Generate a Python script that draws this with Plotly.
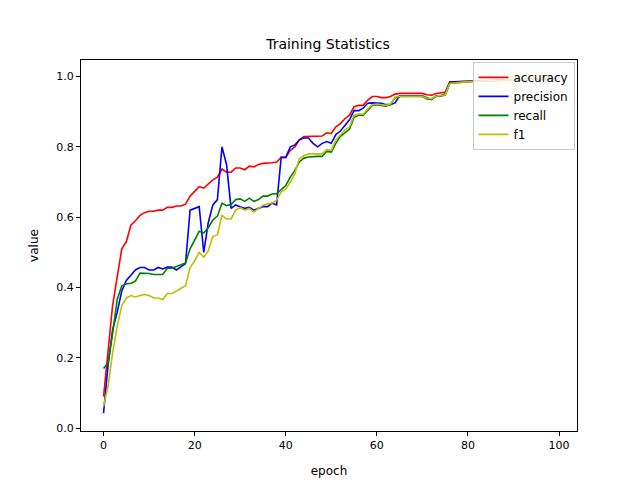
import plotly.graph_objects as go

epochs = list(range(100))

accuracy = [0.09, 0.22, 0.35, 0.43, 0.51, 0.53, 0.577, 0.59, 0.605, 0.613,
            0.617, 0.617, 0.62, 0.62, 0.628, 0.628, 0.632, 0.632, 0.637, 0.66,
            0.675, 0.687, 0.683, 0.695, 0.706, 0.714, 0.737, 0.728, 0.728, 0.74,
            0.74, 0.735, 0.745, 0.743, 0.75, 0.753, 0.753, 0.755, 0.757, 0.77,
            0.77, 0.79, 0.80, 0.82, 0.829, 0.829, 0.829, 0.829, 0.831, 0.84,
            0.838, 0.857, 0.866, 0.88, 0.89, 0.914, 0.918, 0.918, 0.933, 0.943,
            0.943, 0.94, 0.94, 0.943, 0.95, 0.952, 0.952, 0.952, 0.952, 0.952,
            0.952, 0.948, 0.947, 0.952, 0.953, 0.955, 0.984, 0.985, 0.985, 0.986,
            0.986, 0.987, 0.987, 0.988, 0.988, 0.989, 0.989, 0.99, 0.99, 0.99,
            0.991, 0.991, 0.992, 0.992, 0.993, 0.993, 0.994, 0.994, 0.995, 0.995]
precision = [0.043, 0.18, 0.28, 0.33, 0.39, 0.42, 0.435, 0.45, 0.457, 0.457,
             0.45, 0.45, 0.457, 0.453, 0.458, 0.458, 0.45, 0.46, 0.468, 0.62,
             0.625, 0.63, 0.50, 0.585, 0.635, 0.65, 0.80, 0.75, 0.625, 0.635,
             0.63, 0.625, 0.628, 0.62, 0.625, 0.63, 0.63, 0.64, 0.635, 0.77,
             0.77, 0.80, 0.805, 0.82, 0.825, 0.825, 0.81, 0.80, 0.81, 0.815,
             0.81, 0.835, 0.845, 0.86, 0.877, 0.903, 0.903, 0.91, 0.924, 0.925,
             0.925, 0.924, 0.92, 0.92, 0.925, 0.945, 0.945, 0.945, 0.945, 0.945,
             0.945, 0.94, 0.935, 0.945, 0.945, 0.95, 0.984, 0.985, 0.985, 0.986,
             0.986, 0.987, 0.987, 0.988, 0.988, 0.989, 0.989, 0.99, 0.99, 0.99,
             0.991, 0.991, 0.992, 0.992, 0.993, 0.993, 0.994, 0.994, 0.995, 0.995]
recall = [0.17, 0.185, 0.27, 0.366, 0.405, 0.41, 0.412, 0.418, 0.441, 0.441,
          0.44, 0.437, 0.437, 0.437, 0.455, 0.455, 0.46, 0.465, 0.47, 0.51,
          0.537, 0.56, 0.555, 0.57, 0.592, 0.603, 0.64, 0.633, 0.636, 0.65,
          0.652, 0.645, 0.654, 0.645, 0.65, 0.66, 0.66, 0.666, 0.667, 0.68,
          0.69, 0.714, 0.733, 0.757, 0.768, 0.771, 0.773, 0.773, 0.773, 0.787,
          0.785, 0.81, 0.83, 0.84, 0.85, 0.884, 0.89, 0.89, 0.905, 0.918,
          0.92, 0.918, 0.916, 0.92, 0.94, 0.943, 0.943, 0.943, 0.943, 0.943,
          0.943, 0.936, 0.935, 0.943, 0.944, 0.947, 0.98, 0.982, 0.983, 0.984,
          0.985, 0.986, 0.986, 0.987, 0.987, 0.988, 0.988, 0.989, 0.989, 0.99,
          0.99, 0.991, 0.991, 0.992, 0.992, 0.993, 0.993, 0.994, 0.994, 0.995]
f1 = [0.062, 0.12, 0.215, 0.29, 0.348, 0.37, 0.377, 0.373, 0.377, 0.38,
      0.377, 0.37, 0.37, 0.366, 0.383, 0.383, 0.39, 0.397, 0.405, 0.457,
      0.476, 0.50, 0.486, 0.505, 0.545, 0.55, 0.605, 0.595, 0.595, 0.62,
      0.627, 0.62, 0.625, 0.615, 0.625, 0.634, 0.638, 0.64, 0.648, 0.672,
      0.68, 0.70, 0.724, 0.766, 0.775, 0.78, 0.78, 0.78, 0.78, 0.792,
      0.79, 0.82, 0.835, 0.848, 0.857, 0.89, 0.893, 0.893, 0.908, 0.92,
      0.922, 0.92, 0.918, 0.922, 0.942, 0.944, 0.944, 0.944, 0.944, 0.944,
      0.944, 0.938, 0.937, 0.944, 0.945, 0.948, 0.98, 0.982, 0.983, 0.984,
      0.985, 0.986, 0.986, 0.987, 0.987, 0.988, 0.988, 0.989, 0.989, 0.99,
      0.99, 0.991, 0.991, 0.992, 0.992, 0.993, 0.993, 0.994, 0.994, 0.995]

series = [("accuracy", accuracy, "#ff0000"), ("precision", precision, "#0000ff"),
          ("recall", recall, "#008000"), ("f1", f1, "#bfbf00")]

fig = go.Figure()
for name, values, color in series:
    fig.add_trace(go.Scatter(x=epochs, y=values, mode="lines", name=name, line=dict(color=color, width=1.6)))

axis = dict(showgrid=False, zeroline=False, showline=True, linecolor="black", mirror=True,
            ticks="outside", tickcolor="black", ticklen=4, tickfont=dict(size=11, color="black"))
fig.update_layout(
    width=640, height=480,
    paper_bgcolor="white", plot_bgcolor="white",
    font=dict(family="DejaVu Sans", color="black"),
    title=dict(text="Training Statistics", x=0.5, xanchor="center", y=0.935, font=dict(size=14)),
    margin=dict(l=73, r=71, t=52, b=52),
    showlegend=True,
    legend=dict(x=0.995, y=0.995, xanchor="right", yanchor="top", bgcolor="rgba(255,255,255,0.8)",
                bordercolor="#cccccc", borderwidth=1, font=dict(size=12)),
)
fig.update_xaxes(title=dict(text="epoch", font=dict(size=12)), range=[-4.95, 103.95], tickvals=[0, 20, 40, 60, 80, 100], **axis)
fig.update_yaxes(title=dict(text="value", font=dict(size=12)), range=[-0.008, 1.047], tickvals=[0, 0.2, 0.4, 0.6, 0.8, 1.0],
                 tickformat=".1f", **axis)
fig.write_html("out.html")
